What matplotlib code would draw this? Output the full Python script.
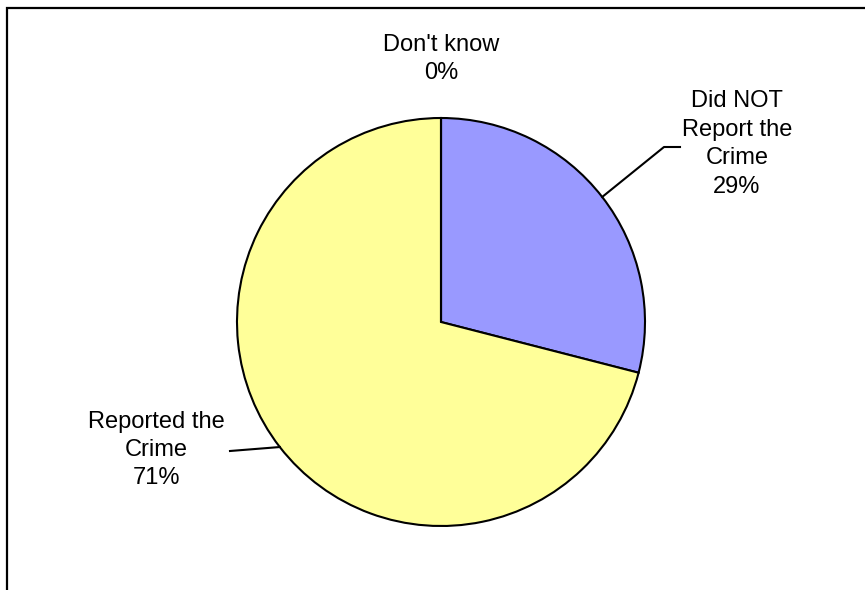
import numpy as np
import matplotlib
matplotlib.use("Agg")
import matplotlib.pyplot as plt
from matplotlib.patches import Rectangle

plt.rcParams['font.family'] = ['Liberation Sans', 'DejaVu Sans']

categories = ["Did NOT\nReport the\nCrime", "Reported the\nCrime", "Don't know"]
values = [29, 71, 0]
colors = ["#9999FF", "#FFFF99", "#FFFFFF"]

W, H = 865, 590
fig = plt.figure(figsize=(W / 100, H / 100), dpi=100)
ax = fig.add_axes([0, 0, 1, 1])

cx, cy, r = 441, H - 322, 204
wedges, _ = ax.pie(values, colors=colors, startangle=90, counterclock=False,
                   center=(cx, cy), radius=r,
                   wedgeprops=dict(edgecolor="black", linewidth=1.5))
ax.set_xlim(0, W)
ax.set_ylim(0, H)
ax.set_aspect('equal')
ax.axis('off')

fs = 17
ls = 1.38
total = sum(values)
pcts = [f"{round(v / total * 100)}%" for v in values]

def edge_point(w):
    ang = np.deg2rad((w.theta1 + w.theta2) / 2)
    return cx + r * np.cos(ang), cy + r * np.sin(ang)

# Did NOT report
x0, y0 = edge_point(wedges[0])
ax.plot([x0, 664, 680], [y0, H - 147, H - 147], color="black", lw=1.5)
ax.text(737, H - 144, f"{categories[0]}\n{pcts[0]}", ha="center", va="center",
        fontsize=fs, linespacing=ls)

# Reported
x1, y1 = edge_point(wedges[1])
ax.plot([x1, 230], [y1, H - 451], color="black", lw=1.5)
ax.text(156, H - 450, f"{categories[1]}\n{pcts[1]}", ha="center", va="center",
        fontsize=fs, linespacing=ls)

# Don't know
ax.text(441, H - 59, f"{categories[2]}\n{pcts[2]}", ha="center", va="center",
        fontsize=fs, linespacing=ls)

fig.patches.append(Rectangle((7, -20), W + 20, H - 8 + 20, transform=None,
                             fill=False, edgecolor="black", linewidth=1.6,
                             figure=fig))

fig.savefig("out.png", dpi=100)
